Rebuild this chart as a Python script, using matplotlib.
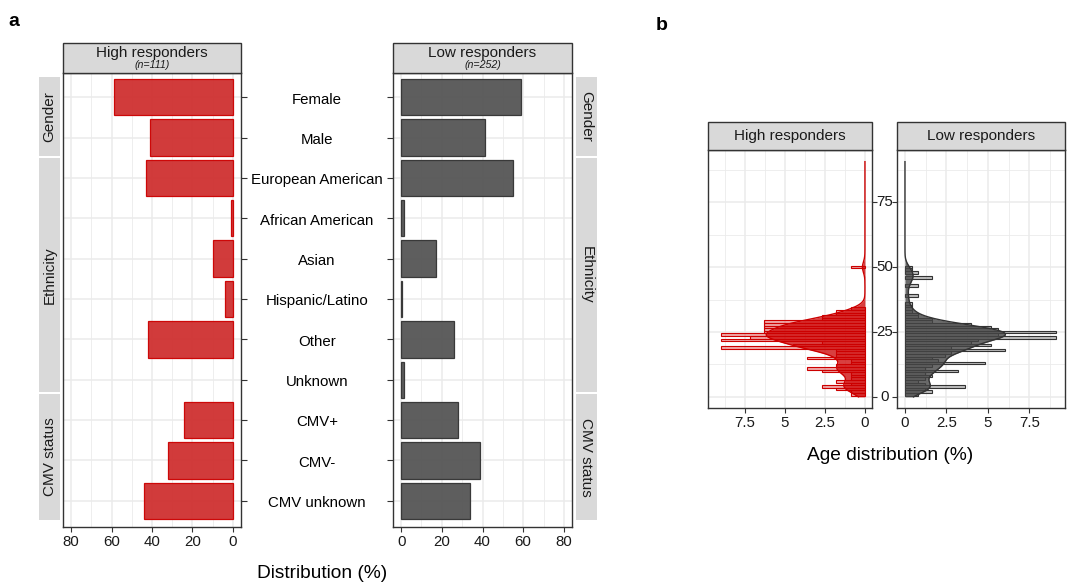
import numpy as np
import matplotlib
matplotlib.use('Agg')
import matplotlib.pyplot as plt
from matplotlib.patches import Rectangle
from matplotlib.transforms import blended_transform_factory as btf

plt.rcParams['font.family'] = ['Liberation Sans', 'DejaVu Sans']

# ---------------- data ----------------
categories = ['Female', 'Male', 'European American', 'African American', 'Asian',
              'Hispanic/Latino', 'Other', 'Unknown', 'CMV+', 'CMV-', 'CMV unknown']
high_pct = [59, 41, 43, 1, 10, 4, 42, 0, 24, 32, 44]
low_pct = [59, 41, 55, 1.2, 17, 0.4, 26, 1.6, 28, 39, 34]
groups = ['Gender', 'Ethnicity', 'CMV status']
group_sizes = [2, 6, 3]
dist_ticks = [0, 20, 40, 60, 80]

ages_high = [1, 2, 3, 4, 5, 6, 7, 8, 9, 10, 11, 12, 13, 14, 15, 16, 17, 18, 19, 20,
             21, 22, 23, 24, 25, 26, 27, 28, 29, 30, 31, 32, 33, 34, 50]
pct_high = [0.9, 0.9, 1.8, 2.7, 0.9, 1.8, 0.9, 0.9, 0.9, 2.7, 3.6, 1.8, 0.9, 0.9, 3.6,
            1.8, 1.8, 1.8, 9.0, 4.5, 2.7, 9.0, 7.2, 9.0, 6.3, 6.3, 6.3, 6.3, 6.3, 2.7,
            2.7, 1.8, 1.8, 0.9, 0.9]
ages_low = [1, 2, 3, 4, 5, 6, 7, 8, 9, 10, 11, 12, 13, 14, 15, 16, 17, 18, 19, 20,
            21, 22, 23, 24, 25, 26, 27, 28, 29, 30, 31, 32, 33, 34, 35, 36, 39, 43,
            46, 48, 49, 50]
pct_low = [0.8, 1.6, 1.2, 3.6, 1.2, 0.8, 1.2, 1.6, 1.2, 3.2, 1.2, 1.6, 4.8, 2.0, 1.6,
           2.4, 2.8, 6.0, 2.8, 5.2, 4.0, 4.4, 9.1, 5.6, 9.1, 5.6, 5.2, 4.0, 1.6, 1.6,
           0.8, 0.8, 0.4, 0.4, 0.4, 0.4, 0.8, 0.8, 1.6, 0.8, 0.4, 0.4]
age_ticks = [0, 25, 50, 75]
age_pct_ticks = [0, 2.5, 5, 7.5]
age_pct_labels = ['0', '2.5', '5', '7.5']
age_max = 90.7

# ---------------- layout helpers ----------------
W, H = 1068, 582
fig = plt.figure(figsize=(W / 100, H / 100), dpi=100)


def box(x0, y0, x1, y1):
    return [x0 / W, 1 - y1 / H, (x1 - x0) / W, (y1 - y0) / H]


def fx(px):
    return px / W


def fy(py):
    return 1 - py / H


RED = '#cc0000'
RED_FILL = '#cf3030'
DARK = '#333333'
GRAY_FILL = '#555555'
GRID = '#ebebeb'
STRIP = '#d9d9d9'
TXT = '#1a1a1a'


def style_axes(ax):
    for s in ax.spines.values():
        s.set_color(DARK)
        s.set_linewidth(1.0)
    ax.set_axisbelow(True)


def strip_top(x0, x1, y0, y1, title, sub=None):
    fig.patches.append(Rectangle((fx(x0), fy(y1)), fx(x1) - fx(x0), fy(y0) - fy(y1),
                                 transform=fig.transFigure, facecolor=STRIP,
                                 edgecolor=DARK, linewidth=1.0, zorder=3))
    xc = fx((x0 + x1) / 2)
    if sub is None:
        fig.text(xc, fy((y0 + y1) / 2), title, ha='center', va='center', fontsize=11, color=TXT)
    else:
        fig.text(xc, fy(52.5), title, ha='center', va='center', fontsize=11, color=TXT)
        fig.text(xc, fy(65.5), sub, ha='center', va='center', fontsize=7.7,
                 style='italic', color=TXT)


# ---------------- panel a ----------------
ypos = np.arange(1, len(categories) + 1)
axL = fig.add_axes(box(63, 73, 241, 527))
axR = fig.add_axes(box(393, 73, 572, 527))
for ax, vals, fc, ec in [(axL, high_pct, RED_FILL, RED), (axR, low_pct, GRAY_FILL, DARK)]:
    style_axes(ax)
    v = np.asarray(vals, float)
    keep = v > 0
    ax.barh(ypos[keep], v[keep], height=0.9, color=fc, edgecolor=ec, linewidth=0.9,
            alpha=0.95, zorder=2)
    ax.set_ylim(11.65, 0.4)
    ax.set_xticks(dist_ticks)
    ax.set_xticks([10, 30, 50, 70], minor=True)
    ax.set_yticks(ypos)
    ax.set_yticklabels([])
    ax.grid(True, which='major', color=GRID, linewidth=1.1)
    ax.grid(True, which='minor', axis='x', color=GRID, linewidth=0.6)
    ax.tick_params(axis='x', which='major', length=3.5, color=DARK, labelsize=10.8,
                   labelcolor=TXT, pad=2)
    ax.tick_params(axis='x', which='minor', length=0)
    ax.tick_params(axis='y', length=4.3, color=DARK)
axL.set_xlim(84, -4)
axR.set_xlim(-4, 84)
axL.yaxis.tick_right()
axL.tick_params(axis='y', which='both', left=False, right=True, labelleft=False, labelright=False)
axR.tick_params(axis='y', which='both', left=True, right=False, labelleft=False)

tr = btf(fig.transFigure, axL.transData)
for y, lab in zip(ypos, categories):
    axL.text(fx(317), y + 0.06, lab, transform=tr, ha='center', va='center', fontsize=10.8,
             color='black', clip_on=False)

strip_top(63, 241, 43, 73, 'High responders', '(n=111)')
strip_top(393, 572, 43, 73, 'Low responders', '(n=252)')

# side strips (pixel extents measured from layout)
strip_spans = [(77, 156), (158, 392), (394, 520)]
for (y0, y1), g in zip(strip_spans, groups):
    for x0, x1, rot in [(39, 60, 90), (576, 597, -90)]:
        fig.patches.append(Rectangle((fx(x0), fy(y1)), fx(x1) - fx(x0), fy(y0) - fy(y1),
                                     transform=fig.transFigure, facecolor=STRIP,
                                     edgecolor='none', zorder=3))
        fig.text(fx((x0 + x1) / 2), fy((y0 + y1) / 2), g, rotation=rot, ha='center',
                 va='center', fontsize=11, color=TXT, rotation_mode='anchor')

fig.text(fx(322), fy(573), 'Distribution (%)', ha='center', va='center', fontsize=13.8,
         color='black')
fig.text(fx(14), fy(22), 'a', ha='center', va='center', fontsize=14, fontweight='bold')
fig.text(fx(662), fy(25), 'b', ha='center', va='center', fontsize=14, fontweight='bold')

# ---------------- panel b ----------------
axBL = fig.add_axes(box(708, 150, 872, 408))
axBR = fig.add_axes(box(897, 150, 1065, 408))
ygrid = np.linspace(0, age_max, 800)


def kde(ages, w, h):
    a = np.asarray(ages, float)[:, None]
    ww = np.asarray(w, float)[:, None]
    k = np.exp(-0.5 * ((ygrid[None, :] - a) / h) ** 2) / (h * np.sqrt(2 * np.pi))
    return 100 * (ww * k).sum(0) / ww.sum()


specs = [
    (axBL, ages_high, pct_high, (0.85, 0.05, 0.05, 0.35), RED, (0.80, 0.0, 0.0, 0.75), 2.0),
    (axBR, ages_low, pct_low, (0.35, 0.35, 0.35, 0.38), DARK, (0.27, 0.27, 0.27, 0.80), 2.1),
]
for ax, ages, pct, fc, ec, dfc, bw in specs:
    style_axes(ax)
    ax.barh(ages, pct, height=1.0, color=fc, edgecolor=ec, linewidth=0.8, zorder=2)
    d = kde(ages, pct, bw)
    ax.fill_betweenx(ygrid, 0, d, color=dfc, linewidth=0, zorder=3)
    ax.plot(d, ygrid, color=ec, linewidth=1.0, zorder=4)
    ax.set_ylim(-4.3, 95.2)
    ax.set_yticks(age_ticks)
    ax.set_yticks([12.5, 37.5, 62.5, 87.5], minor=True)
    ax.set_xticks(age_pct_ticks)
    ax.set_xticklabels(age_pct_labels)
    ax.set_xticks([1.25, 3.75, 6.25, 8.75], minor=True)
    ax.grid(True, which='major', color=GRID, linewidth=1.1)
    ax.grid(True, which='minor', color=GRID, linewidth=0.6)
    ax.tick_params(which='minor', length=0)
    ax.tick_params(axis='x', which='major', length=3.5, color=DARK, labelsize=10.8,
                   labelcolor=TXT, pad=2)
    ax.tick_params(axis='y', which='major', length=3.5, color=DARK)
    ax.set_yticklabels([])
axBL.set_xlim(9.8, -0.44)
axBR.set_xlim(-0.48, 9.64)
axBL.yaxis.tick_right()
axBL.tick_params(axis='y', which='both', left=False, right=True, labelleft=False, labelright=False)
axBR.tick_params(axis='y', which='both', left=True, right=False, labelleft=False)
trb = btf(fig.transFigure, axBL.transData)
for t in age_ticks:
    axBL.text(fx(884.5), t, str(t), transform=trb, ha='center', va='center', fontsize=10.8,
              color=TXT, clip_on=False)

strip_top(708, 872, 122, 150, 'High responders')
strip_top(897, 1065, 122, 150, 'Low responders')
fig.text(fx(890), fy(456), 'Age distribution (%)', ha='center', va='center', fontsize=13.8,
         color='black')

fig.savefig('out.png', dpi=100)
